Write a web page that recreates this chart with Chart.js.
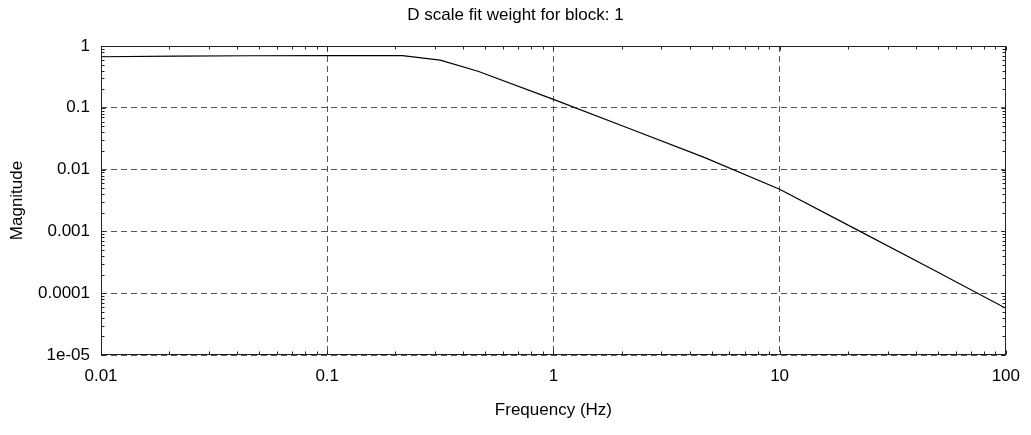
<!DOCTYPE html>
<html>
<head>
<meta charset="utf-8">
<script src="https://cdn.jsdelivr.net/npm/chart.js@4.4.0/dist/chart.umd.min.js"></script>
<style>
html, body { margin: 0; padding: 0; background: #fff; }
</style>
</head>
<body>
<canvas id="chart" width="1031" height="435"></canvas>
<script>
// D scale fit weight
const freqHz = [0.01, 0.0215, 0.0464, 0.1, 0.215, 0.316, 0.464, 1, 2.15, 4.64, 10, 21.5, 46.4, 100];
const magnitude = [0.67, 0.685, 0.695, 0.70, 0.70, 0.59, 0.39, 0.137, 0.0466, 0.0158, 0.0048, 0.00111, 0.000253, 0.000057];

const xTickValues = [0.01, 0.1, 1, 10, 100];
const xTickLabels = ['0.01', '0.1', '1', '10', '100'];
const yTickValues = [1e-5, 1e-4, 1e-3, 1e-2, 1e-1, 1];
const yTickLabels = ['1e-05', '0.0001', '0.001', '0.01', '0.1', '1'];

const chartTitle = 'D scale fit weight for block: 1';

const FONT = '"Liberation Sans", Arial, Helvetica, sans-serif';
Chart.defaults.font.family = FONT;
Chart.defaults.font.size = 17;
Chart.defaults.color = '#000';

// title centred on the whole figure, like the original
const titlePlugin = {
    id: 'figTitle',
    afterDraw(chart) {
        const { ctx, width } = chart;
        ctx.save();
        ctx.font = '17px ' + FONT;
        ctx.fillStyle = '#000';
        ctx.textAlign = 'center';
        ctx.textBaseline = 'middle';
        ctx.fillText(chartTitle, width / 2, 15);
        ctx.restore();
    }
};

// box around the plot plus the small minor ticks on all four sides
const framePlugin = {
    id: 'frame',
    afterDraw(chart) {
        const { ctx, chartArea: a, scales } = chart;
        const L = Math.round(a.left) + 0.5, R = Math.round(a.right) - 0.5;
        const T = Math.round(a.top) + 0.5, B = Math.round(a.bottom) - 0.5;
        ctx.save();
        ctx.strokeStyle = '#222';
        ctx.lineWidth = 1;
        ctx.beginPath();

        xTickValues.forEach((d, i) => {
            const last = i === xTickValues.length - 1;
            for (let m = 1; m <= (last ? 1 : 9); m++) {
                const px = Math.round(scales.x.getPixelForValue(d * m)) + 0.5;
                const len = m === 1 ? 4 : 3;
                ctx.moveTo(px, B); ctx.lineTo(px, B - len);
                ctx.moveTo(px, T); ctx.lineTo(px, T + len);
            }
        });
        yTickValues.forEach((d, i) => {
            const last = i === yTickValues.length - 1;
            for (let m = 1; m <= (last ? 1 : 9); m++) {
                const py = Math.round(scales.y.getPixelForValue(d * m)) + 0.5;
                const len = m === 1 ? 4 : 3;
                ctx.moveTo(L, py); ctx.lineTo(L + len, py);
                ctx.moveTo(R, py); ctx.lineTo(R - len, py);
            }
        });
        ctx.stroke();
        ctx.strokeRect(L, T, R - L, B - T);
        ctx.restore();
    }
};

const ctx = document.getElementById('chart').getContext('2d');
new Chart(ctx, {
    type: 'line',
    data: {
        datasets: [{
            data: freqHz.map((f, i) => ({ x: f, y: magnitude[i] })),
            borderColor: '#000',
            borderWidth: 1.2,
            pointRadius: 0,
            fill: false,
            tension: 0
        }]
    },
    options: {
        responsive: false,
        animation: false,
        layout: { padding: { top: 46, right: 19 } },
        plugins: {
            legend: { display: false },
            tooltip: { enabled: false },
            title: { display: false }
        },
        scales: {
            x: {
                type: 'logarithmic',
                min: 0.01,
                max: 100,
                afterBuildTicks: s => { s.ticks = xTickValues.map(v => ({ value: v })); },
                afterFit: s => { s.height = 80; },
                ticks: {
                    callback: (v, i) => xTickLabels[i],
                    autoSkip: false,
                    maxRotation: 0,
                    padding: 11
                },
                grid: { color: '#555', lineWidth: 1, drawTicks: false },
                border: { display: false, dash: [6, 4] },
                title: {
                    display: true,
                    text: 'Frequency (Hz)',
                    padding: { top: 0, bottom: 14 }
                }
            },
            y: {
                type: 'logarithmic',
                min: 1e-5,
                max: 1,
                afterBuildTicks: s => { s.ticks = yTickValues.map(v => ({ value: v })); },
                afterFit: s => { s.width = 101; },
                ticks: {
                    callback: (v, i) => yTickLabels[i],
                    autoSkip: false,
                    padding: 11
                },
                grid: { color: '#555', lineWidth: 1, drawTicks: false },
                border: { display: false, dash: [6, 4] },
                title: {
                    display: true,
                    text: 'Magnitude',
                    padding: { top: 7, bottom: 0 }
                }
            }
        }
    },
    plugins: [framePlugin, titlePlugin]
});
</script>
</body>
</html>
